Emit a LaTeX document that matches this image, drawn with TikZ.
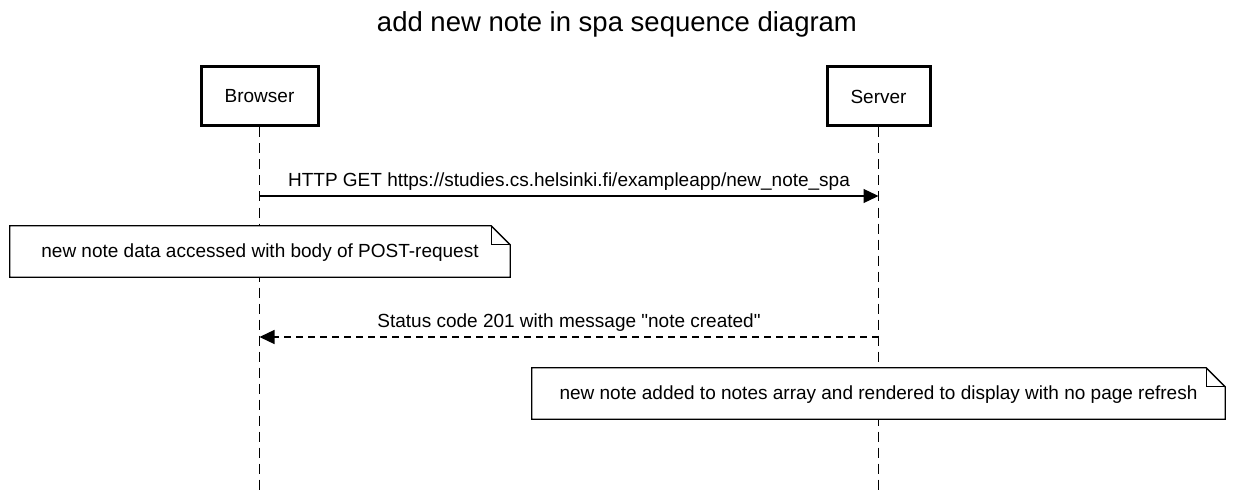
\documentclass[tikz,border=0pt]{standalone}
\usepackage{fontspec}
\setmainfont{Liberation Sans}[Ligatures=TeXOff]
\usetikzlibrary{positioning,calc,arrows.meta}

\begin{document}
\begin{tikzpicture}[x=1pt,y=-1pt,
	actor/.style={draw,line width=3pt,minimum height=59pt,font=\fontsize{19}{22}\selectfont},
	life/.style={line width=1.3pt,dash pattern=on 10pt off 6pt},
	msg/.style={line width=1.3pt,-{Triangle[length=15pt,width=14pt]}},
	reply/.style={msg,dash pattern=on 7pt off 5pt},
	label/.style={font=\fontsize{19}{22}\selectfont,inner sep=0pt},
	notetext/.style={font=\fontsize{19}{22}\selectfont,minimum height=51pt}]
%	\draw[lightgray] (0,0) grid[step=50] (1235,492);
	\useasboundingbox (0,0) rectangle (1235,492);
	\node[font=\fontsize{27.5}{32}\selectfont] (title) at (617,24) {add new note in spa sequence diagram};
	% participants
	\node[actor,minimum width=117pt] (browser) at (259.5,96.5) {Browser};
	\node[actor,minimum width=103pt] (server) at (878.5,96.5) {Server};
	\coordinate (browserend) at (browser.south |- 0,492);
	\coordinate (serverend) at (server.south |- 0,492);
	\draw[life] (browser.south) -- (browserend);
	\draw[life] (server.south) -- (serverend);
	% messages
	\coordinate (getb) at (browser.south |- 0,196);
	\coordinate (gets) at (server.south |- 0,196);
	\draw[msg] (getb) -- (gets);
	\node[label,above=5pt] (getlabel) at ($(getb)!0.5!(gets)$) {HTTP GET https://studies.cs.helsinki.fi/exampleapp/new\_note\_spa};
	\coordinate (reps) at (server.south |- 0,337);
	\coordinate (repb) at (browser.south |- 0,337);
	\draw[reply] (reps) -- (repb);
	\node[label,above=5pt] (replabel) at ($(reps)!0.5!(repb)$) {Status code 201 with message "note created"};
	% notes
	\node[notetext,minimum width=500pt] (note1) at (260,251.5) {};
	\draw[line width=1.3pt,fill=white] (note1.north west) -- ($(note1.north east)+(-19,0)$) -- ($(note1.north east)+(0,19)$) -- (note1.south east) -- (note1.south west) -- cycle;
	\draw[line width=1.3pt] ($(note1.north east)+(-19,0)$) -- ($(note1.north east)+(-19,19)$) -- ($(note1.north east)+(0,19)$);
	\node[notetext] (note1text) at (260,253) {new note data accessed with body of POST-request};
	\node[notetext,minimum width=693pt] (note2) at (878.5,393.5) {};
	\draw[line width=1.3pt,fill=white] (note2.north west) -- ($(note2.north east)+(-19,0)$) -- ($(note2.north east)+(0,19)$) -- (note2.south east) -- (note2.south west) -- cycle;
	\draw[line width=1.3pt] ($(note2.north east)+(-19,0)$) -- ($(note2.north east)+(-19,19)$) -- ($(note2.north east)+(0,19)$);
	\node[notetext] (note2text) at (878.5,395) {new note added to notes array and rendered to display with no page refresh};
\end{tikzpicture}
\end{document}
